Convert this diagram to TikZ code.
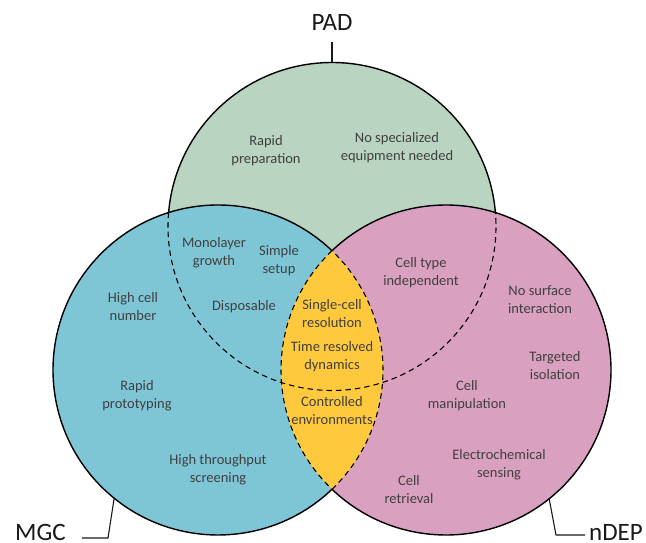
\documentclass[tikz,border=0pt]{standalone}
\usepackage{fontspec}
\setmainfont{Carlito}
\definecolor{padgreen}{RGB}{185,212,193}
\definecolor{mgcblue}{RGB}{126,198,214}
\definecolor{ndeppink}{RGB}{217,160,192}
\definecolor{lensyellow}{RGB}{255,201,61}
\definecolor{txtgray}{RGB}{64,64,64}
\definecolor{lblcol}{RGB}{25,25,25}
\begin{document}
\begin{tikzpicture}[x=1pt,y=1pt,
  txt/.style={font=\fontsize{14.5}{18}\selectfont, text=txtgray, align=center, inner sep=0pt},
  lbl/.style={font=\fontsize{25}{30}\selectfont, text=lblcol, inner sep=0pt},
  outline/.style={line width=1.4pt, draw=black},
  dashline/.style={line width=1.1pt, dash pattern=on 5.5pt off 4pt},
  leader/.style={line width=1.1pt, draw=lblcol}]
\useasboundingbox (0,0) rectangle (646,543);
\coordinate (cG) at (332,316.5);
\coordinate (cB) at (218,173);
\coordinate (cP) at (446,173);
% fills
\fill[padgreen] (cG) circle[radius=164pt];
\fill[mgcblue] (cB) circle[radius=165pt];
\fill[ndeppink] (cP) circle[radius=165pt];
\begin{scope}
  \clip (cB) circle[radius=165pt];
  \fill[lensyellow] (cP) circle[radius=165pt];
\end{scope}
% outlines
\draw[outline] ([shift={(4.86:164pt)}]cG) arc[start angle=4.86, end angle=175.14, radius=164pt];
\draw[outline,dashline] ([shift={(175.14:164pt)}]cG) arc[start angle=175.14, end angle=364.86, radius=164pt];
\draw[outline] ([shift={(46.30:165pt)}]cB) arc[start angle=46.30, end angle=313.70, radius=165pt];
\draw[outline,dashline] ([shift={(-46.30:165pt)}]cB) arc[start angle=-46.30, end angle=46.30, radius=165pt];
\draw[outline] ([shift={(226.30:165pt)}]cP) arc[start angle=226.30, end angle=493.70, radius=165pt];
\draw[outline,dashline] ([shift={(133.70:165pt)}]cP) arc[start angle=133.70, end angle=226.30, radius=165pt];
% labels and leaders
\node[lbl, anchor=base] (pad) at (332,512) {PAD};
\coordinate (padTip) at ([shift={(90:164pt)}]cG);
\coordinate (padTop) at (332,501);
\draw[leader] (padTip) -- (padTop);
\node[lbl, anchor=base west] (mgc) at (15,2) {MGC};
\coordinate (mgcTip) at ([shift={(231:165pt)}]cB);
\coordinate (mgcElbow) at (108,5);
\coordinate (mgcEnd) at (82,5);
\draw[leader] (mgcTip) -- (mgcElbow) -- (mgcEnd);
\node[lbl, anchor=base west] (ndep) at (589,2) {nDEP};
\coordinate (ndepTip) at ([shift={(308.7:165pt)}]cP);
\coordinate (ndepElbow) at (556,8);
\coordinate (ndepEnd) at (585,8);
\draw[leader] (ndepTip) -- (ndepElbow) -- (ndepEnd);
% texts
\node[txt] (t1) at (266,392) {Rapid\\preparation};
\node[txt] (t2) at (397,395) {No specialized\\equipment needed};
\node[txt] (t3) at (214,290.5) {Monolayer\\growth};
\node[txt] (t4) at (279,282) {Simple\\setup};
\node[txt] (t5) at (244,236) {Disposable};
\node[txt] (t6) at (133,236) {High cell\\number};
\node[txt] (t7) at (332,229) {Single-cell\\resolution};
\node[txt] (t8) at (332,186) {Time resolved\\dynamics};
\node[txt] (t9) at (332,132.5) {Controlled\\environments};
\node[txt] (t10) at (421,270.5) {Cell type\\independent};
\node[txt] (t11) at (540,243.5) {No surface\\interaction};
\node[txt] (t12) at (555,177) {Targeted\\isolation};
\node[txt] (t13) at (467,147) {Cell\\manipulation};
\node[txt] (t14) at (137,147) {Rapid\\prototyping};
\node[txt] (t15) at (218,73) {High throughput\\screening};
\node[txt] (t16) at (499,78) {Electrochemical\\sensing};
\node[txt] (t17) at (409,53) {Cell\\retrieval};
\end{tikzpicture}
\end{document}
